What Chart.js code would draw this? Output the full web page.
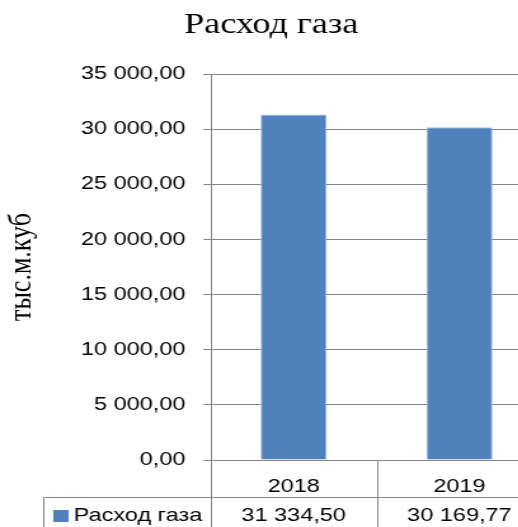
<!DOCTYPE html>
<html>
<head>
<meta charset="utf-8">
<script src="https://cdn.jsdelivr.net/npm/chart.js@4"></script>
<style>
    html, body { margin: 0; padding: 0; background: #fff; overflow: hidden; }
    #page { width: 518px; height: 527px; overflow: hidden; position: relative; }
    /* the original picture is stretched sideways, so the chart is too */
    #wrap { width: 430px; height: 527px; transform: scaleX(1.27); transform-origin: 0 0; }
</style>
</head>
<body>
<div id="page">
    <div id="wrap"><canvas id="gas-chart"></canvas></div>
</div>
<script>
const categories = ['2018', '2019'];
const gasValues = [31334.50, 30169.77];
const seriesName = 'Расход газа';
const chartTitle = 'Расход газа';
const yAxisTitle = 'тыс.м.куб';

const gridColor = '#868686';
const barColor = '#4F81BD';
const sansFont = "'Liberation Sans', Arial, sans-serif";
const serifFont = "'Liberation Serif', 'Times New Roman', serif";

function formatNumber(value) {
    const parts = Number(value).toFixed(2).split('.');
    const intPart = parts[0].replace(/\B(?=(\d{3})+(?!\d))/g, ' ');
    return intPart + ',' + parts[1];
}

// data table under the x axis (Excel style)
const dataTablePlugin = {
    id: 'dataTable',
    afterDraw(chart) {
        const ctx = chart.ctx;
        const xScale = chart.scales.x;
        const area = chart.chartArea;
        const bottom = chart.height;
        const rowY = 497.5;
        const tableLeft = 34.5;
        const half = (xScale.getPixelForValue(1) - xScale.getPixelForValue(0)) / 2;

        ctx.save();
        ctx.strokeStyle = gridColor;
        ctx.lineWidth = 1;
        ctx.beginPath();
        for (let i = 0; i <= categories.length; i++) {
            const bx = Math.round(xScale.getPixelForValue(0) - half + i * half * 2) + 0.5;
            ctx.moveTo(bx, area.bottom);
            ctx.lineTo(bx, bottom);
        }
        ctx.moveTo(tableLeft, rowY);
        ctx.lineTo(chart.width, rowY);
        ctx.moveTo(tableLeft, rowY);
        ctx.lineTo(tableLeft, bottom);
        ctx.stroke();

        // legend key + series name
        const midY = 516;
        ctx.fillStyle = barColor;
        ctx.fillRect(42, midY - 6, 12, 12);
        ctx.fillStyle = '#000';
        ctx.font = '18.5px ' + sansFont;
        ctx.textBaseline = 'middle';
        ctx.textAlign = 'left';
        ctx.fillText(seriesName, 58, midY);

        ctx.textAlign = 'center';
        gasValues.forEach((v, i) => {
            ctx.fillText(formatNumber(v), xScale.getPixelForValue(i), midY);
        });
        ctx.restore();
    }
};

const ctx = document.getElementById('gas-chart');

new Chart(ctx, {
    type: 'bar',
    data: {
        labels: categories,
        datasets: [
            {
                label: seriesName,
                data: gasValues,
                backgroundColor: barColor,
                borderColor: '#a9c1df',
                borderWidth: 1,
                barPercentage: 0.4,
                categoryPercentage: 1.0
            }
        ]
    },
    options: {
        responsive: true,
        maintainAspectRatio: false,
        animation: false,
        layout: {
            padding: { top: 0, left: 0, right: 3, bottom: 0 }
        },
        plugins: {
            legend: { display: false },
            tooltip: { enabled: false },
            title: {
                display: true,
                text: chartTitle,
                color: '#000',
                font: { family: serifFont, size: 28.5, weight: 'normal', lineHeight: 1.2 },
                padding: { top: 8, bottom: 31.8 }
            }
        },
        scales: {
            x: {
                grid: { display: false },
                border: { display: true, color: gridColor },
                ticks: {
                    color: '#000',
                    padding: 8,
                    font: { family: sansFont, size: 18.5 }
                },
                afterFit(scale) {
                    scale.height = 67;
                }
            },
            y: {
                min: 0,
                max: 35000,
                ticks: {
                    stepSize: 5000,
                    color: '#000',
                    padding: 14,
                    font: { family: sansFont, size: 18.5 },
                    callback: (value) => formatNumber(value)
                },
                grid: {
                    color: gridColor,
                    tickLength: 6
                },
                border: { display: true, color: gridColor },
                title: {
                    display: true,
                    text: yAxisTitle,
                    color: '#000',
                    font: { family: serifFont, size: 26, weight: 'normal', lineHeight: 1.0 },
                    padding: { top: 4, bottom: 0 }
                },
                afterFit(scale) {
                    scale.width = 166;
                }
            }
        }
    },
    plugins: [dataTablePlugin]
});
</script>
</body>
</html>
